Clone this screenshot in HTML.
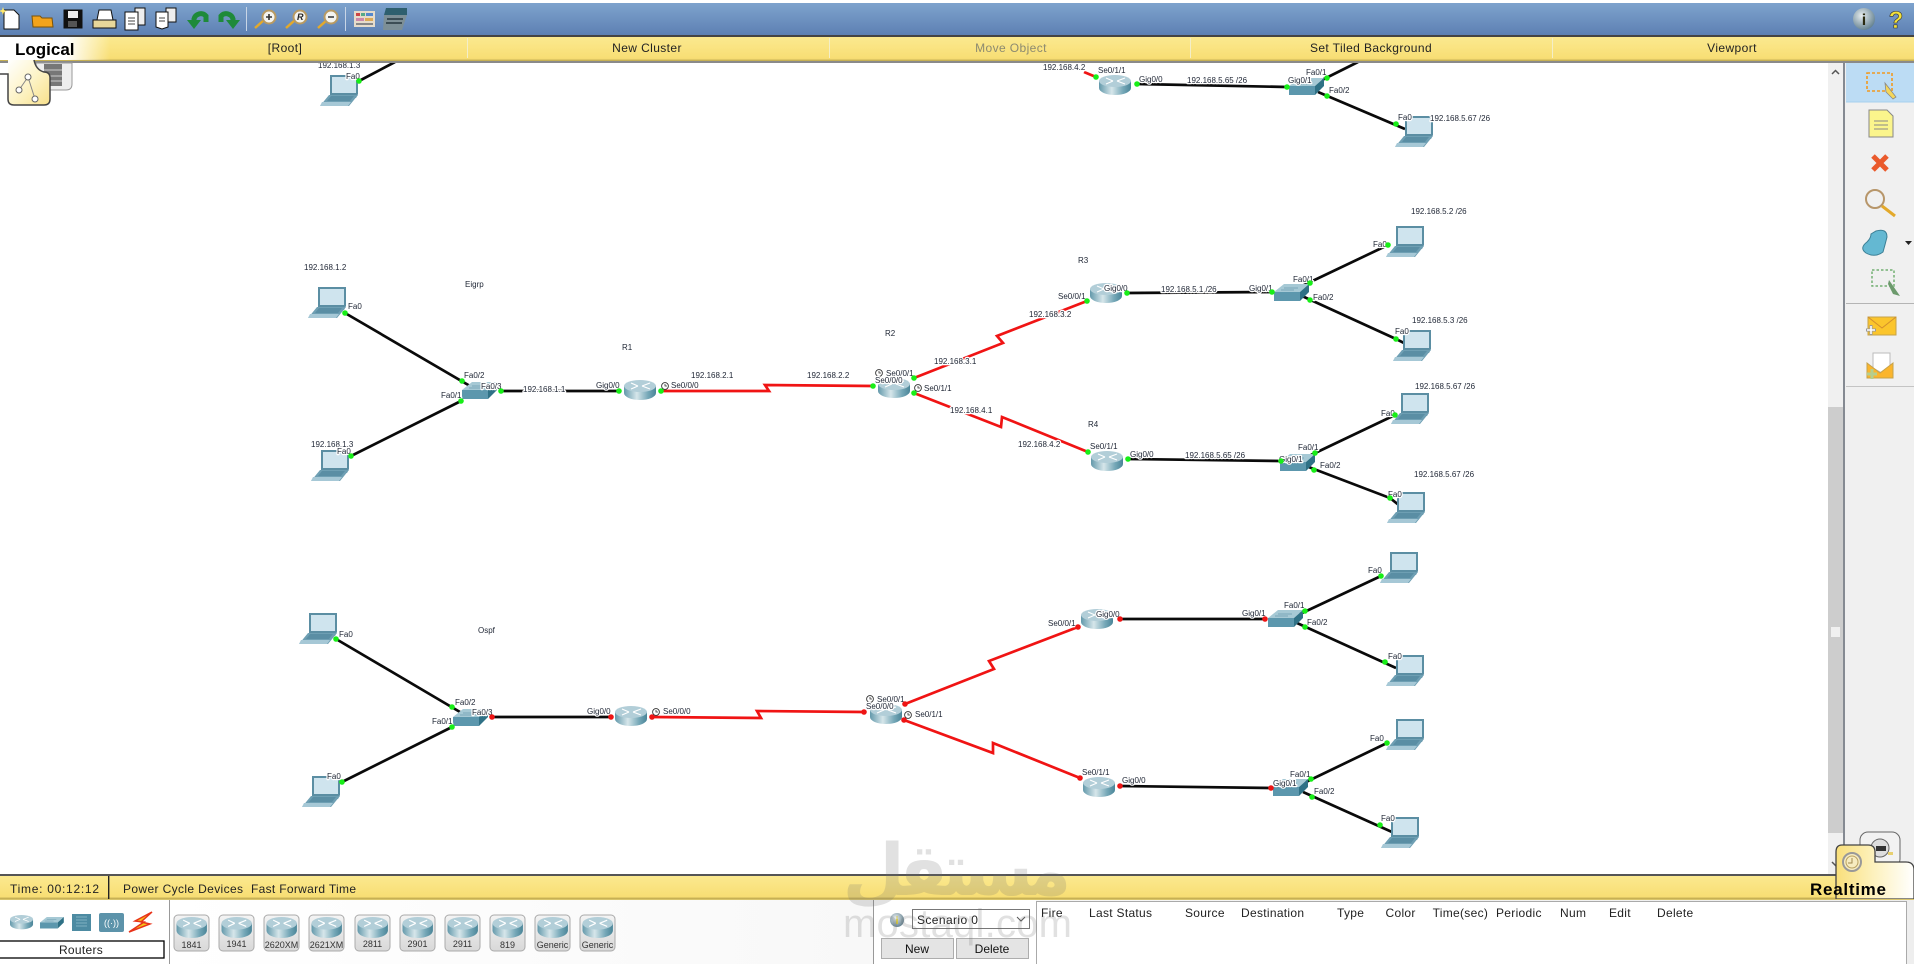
<!DOCTYPE html>
<html><head><meta charset="utf-8"><style>
html,body{margin:0;padding:0;background:#fff;width:1914px;height:964px;overflow:hidden}
svg{display:block;font-family:"Liberation Sans",sans-serif}
.l text{font-size:8px;fill:#1d2433;stroke:#fff;stroke-width:2.5px;paint-order:stroke;stroke-linejoin:round}
.m text{font-size:12px;fill:#222}
.n text{letter-spacing:.4px}
.c text{font-size:9px;fill:#333;text-anchor:middle}
.h text{font-size:12px;fill:#222;letter-spacing:.3px}
</style></head><body>
<svg width="1914" height="964" viewBox="0 0 1914 964" xmlns="http://www.w3.org/2000/svg">
<defs>
<linearGradient id="rg" x1="0" x2="1" y1="0" y2="0"><stop offset="0" stop-color="#6399ab"/><stop offset=".4" stop-color="#d6e6ea"/><stop offset=".75" stop-color="#76a8b8"/><stop offset="1" stop-color="#4a8598"/></linearGradient>
<linearGradient id="tb" x1="0" x2="0" y1="0" y2="1"><stop offset="0" stop-color="#7ea3cd"/><stop offset="1" stop-color="#5d80b3"/></linearGradient>
<linearGradient id="yb" x1="0" x2="0" y1="0" y2="1"><stop offset="0" stop-color="#fbe98f"/><stop offset=".9" stop-color="#f8de74"/><stop offset="1" stop-color="#b9a44c"/></linearGradient>
<linearGradient id="lg" x1="0" x2="1" y1="0" y2="0"><stop offset="0" stop-color="#fff"/><stop offset=".6" stop-color="#fff"/><stop offset="1" stop-color="#fff" stop-opacity="0"/></linearGradient>
<linearGradient id="lt" x1="0" x2="1" y1="0" y2="1"><stop offset="0" stop-color="#fff"/><stop offset=".5" stop-color="#fdf4c8"/><stop offset="1" stop-color="#f8e08a"/></linearGradient>
<linearGradient id="rt" x1="0" x2="1" y1="0" y2="0"><stop offset="0" stop-color="#f9df7a"/><stop offset=".5" stop-color="#fdf2c0"/><stop offset="1" stop-color="#fff"/></linearGradient>
<linearGradient id="gy" x1="0" x2="1" y1="0" y2="0"><stop offset="0" stop-color="#fff"/><stop offset="1" stop-color="#eee"/></linearGradient>
<linearGradient id="cd" x1="0" x2="0" y1="0" y2="1"><stop offset="0" stop-color="#f4f4f4"/><stop offset="1" stop-color="#d8d8d8"/></linearGradient>
<radialGradient id="ball" cx=".4" cy=".35" r=".7"><stop offset="0" stop-color="#e8eef0"/><stop offset="1" stop-color="#5f7d8c"/></radialGradient>
<g id="lap">
<path d="M10 0H38V19L36 23H10Z" fill="#5b8ea3"/><rect x="12" y="2" width="24" height="16" fill="#cfe4ee"/>
<path d="M9 20H38L29 31H0Z" fill="#6e9fb3"/><path d="M11 21H34L30 26H7Z" fill="#5a8ea4"/><path d="M2 27H31L28 31H0Z" fill="#a6c8d6"/>
</g>
<g id="rou">
<path d="M0 6V13A16 7 0 0 0 32 13V6Z" fill="url(#rg)"/><ellipse cx="16" cy="6" rx="16" ry="6" fill="#b2ced8"/>
<path d="M7 3L14 6M18 6L26 9M26 3L18 6M14 6L7 9" stroke="#fff" stroke-width="1.1"/>
</g>
<g id="swi">
<path d="M0 8H26V17H0Z" fill="#5c97ad"/><path d="M0 8L10 0H35L26 8Z" fill="#a6c9d5"/><path d="M26 8L35 0V8L26 17Z" fill="#2f7186"/>
<path d="M10 4H24M7 6H20" stroke="#7aa8b9" stroke-width="1"/>
</g>
<g id="clk"><circle r="3.4" fill="#fff" stroke="#333" stroke-width=".9"/><path d="M0 -2V0H2" stroke="#333" stroke-width=".8" fill="none"/></g>
</defs>

<rect width="1914" height="964" fill="#fff"/>

<!-- connectors -->
<g fill="none" stroke-linejoin="miter">
<g stroke="#0a0a0a" stroke-width="2.7">
<path d="M359 81L395 62"/>
<path d="M345 313L470 386M351 456L461 401M501 391H619"/>
<path d="M1127 293L1272 292M1304 285L1388 245M1302 296L1396 339L1404 343"/>
<path d="M1128 459L1281 461M1311 455L1395 415M1306 466L1390 498L1400 506"/>
<path d="M1137 84L1287 87M1322 80L1358 62M1318 92L1405 129"/>
<path d="M336 639L460 712M342 782L452 727M492 717H611"/>
<path d="M1120 619L1265 619M1300 614L1381 576M1297 623L1396 668"/>
<path d="M1120 786L1271 788M1306 782L1387 743M1303 792L1392 832"/>
</g>
<g stroke="#f01414" stroke-width="2.7">
<path d="M661 391H769L765 385L873 386"/>
<path d="M914 378L1003 343L997 336L1087 301"/>
<path d="M914 393L1001 427L1002 417L1088 452"/>
<path d="M1084 72L1096 77"/>
<path d="M652 717L761 718L757 711L864 712"/>
<path d="M905 704L994 669L989 661L1078 627"/>
<path d="M904 720L993 753L993 743L1080 778"/>
</g>
</g>

<!-- laptops -->
<use href="#lap" x="320" y="75"/><use href="#lap" x="308" y="287"/><use href="#lap" x="311" y="450"/>
<use href="#lap" x="1395" y="116"/><use href="#lap" x="1386" y="226"/><use href="#lap" x="1393" y="330"/>
<use href="#lap" x="1391" y="393"/><use href="#lap" x="1387" y="492"/>
<use href="#lap" x="299" y="613"/><use href="#lap" x="302" y="776"/>
<use href="#lap" x="1380" y="552"/><use href="#lap" x="1386" y="655"/><use href="#lap" x="1386" y="719"/><use href="#lap" x="1381" y="817"/>
<!-- routers -->
<use href="#rou" x="624" y="380"/><use href="#rou" x="878" y="378"/><use href="#rou" x="1090" y="283"/><use href="#rou" x="1091" y="451"/><use href="#rou" x="1099" y="75"/>
<use href="#rou" x="615" y="706"/><use href="#rou" x="870" y="704"/><use href="#rou" x="1081" y="609"/><use href="#rou" x="1083" y="777"/>
<!-- switches -->
<use href="#swi" x="462" y="382"/><use href="#swi" x="1274" y="284"/><use href="#swi" x="1280" y="454"/><use href="#swi" x="1289" y="78"/>
<use href="#swi" x="453" y="709"/><use href="#swi" x="1268" y="610"/><use href="#swi" x="1273" y="779"/>

<!-- clocks -->
<use href="#clk" x="665" y="386"/><use href="#clk" x="879" y="373"/><use href="#clk" x="918" y="388"/>
<use href="#clk" x="656" y="712"/><use href="#clk" x="870" y="699"/><use href="#clk" x="908" y="715"/>

<!-- labels -->
<g class="l">
<text x="318" y="68">192.168.1.3</text><text x="346" y="79">Fa0</text>
<text x="304" y="270">192.168.1.2</text><text x="465" y="287">Eigrp</text><text x="348" y="309">Fa0</text>
<text x="464" y="378">Fa0/2</text><text x="481" y="389">Fa0/3</text><text x="441" y="398">Fa0/1</text>
<text x="523" y="392">192.168.1.1</text><text x="596" y="388">Gig0/0</text><text x="671" y="388">Se0/0/0</text>
<text x="622" y="350">R1</text><text x="311" y="447">192.168.1.3</text><text x="337" y="454">Fa0</text>
<text x="691" y="378">192.168.2.1</text><text x="807" y="378">192.168.2.2</text>
<text x="1078" y="263">R3</text><text x="1058" y="299">Se0/0/1</text><text x="1104" y="291">Gig0/0</text>
<text x="1161" y="292">192.168.5.1 /26</text><text x="1249" y="291">Gig0/1</text><text x="1029" y="317">192.168.3.2</text>
<text x="885" y="336">R2</text><text x="934" y="364">192.168.3.1</text><text x="886" y="376">Se0/0/1</text>
<text x="875" y="383">Se0/0/0</text><text x="924" y="391">Se0/1/1</text><text x="950" y="413">192.168.4.1</text>
<text x="1018" y="447">192.168.4.2</text><text x="1088" y="427">R4</text><text x="1090" y="449">Se0/1/1</text>
<text x="1130" y="457">Gig0/0</text><text x="1185" y="458">192.168.5.65 /26</text>
<text x="1293" y="282">Fa0/1</text><text x="1313" y="300">Fa0/2</text><text x="1373" y="247">Fa0</text>
<text x="1411" y="214">192.168.5.2 /26</text><text x="1395" y="334">Fa0</text><text x="1412" y="323">192.168.5.3 /26</text>
<text x="1279" y="462">Gig0/1</text><text x="1298" y="450">Fa0/1</text><text x="1320" y="468">Fa0/2</text>
<text x="1381" y="416">Fa0</text><text x="1415" y="389">192.168.5.67 /26</text><text x="1388" y="497">Fa0</text>
<text x="1414" y="477">192.168.5.67 /26</text>
<text x="1043" y="70">192.168.4.2</text><text x="1098" y="73">Se0/1/1</text><text x="1139" y="82">Gig0/0</text>
<text x="1187" y="83">192.168.5.65 /26</text><text x="1288" y="83">Gig0/1</text><text x="1306" y="75">Fa0/1</text>
<text x="1329" y="93">Fa0/2</text><text x="1398" y="120">Fa0</text><text x="1430" y="121">192.168.5.67 /26</text>
<text x="339" y="637">Fa0</text><text x="478" y="633">Ospf</text><text x="455" y="705">Fa0/2</text>
<text x="472" y="715">Fa0/3</text><text x="432" y="724">Fa0/1</text><text x="587" y="714">Gig0/0</text>
<text x="663" y="714">Se0/0/0</text><text x="327" y="779">Fa0</text>
<text x="877" y="702">Se0/0/1</text><text x="866" y="709">Se0/0/0</text><text x="915" y="717">Se0/1/1</text>
<text x="1048" y="626">Se0/0/1</text><text x="1096" y="617">Gig0/0</text><text x="1242" y="616">Gig0/1</text>
<text x="1284" y="608">Fa0/1</text><text x="1307" y="625">Fa0/2</text><text x="1368" y="573">Fa0</text>
<text x="1388" y="659">Fa0</text><text x="1370" y="741">Fa0</text><text x="1290" y="777">Fa0/1</text>
<text x="1273" y="786">Gig0/1</text><text x="1314" y="794">Fa0/2</text><text x="1381" y="821">Fa0</text>
<text x="1082" y="775">Se0/1/1</text><text x="1122" y="783">Gig0/0</text>
</g>

<!-- link lights -->
<g fill="#18ee18">
<circle cx="359" cy="81" r="2.8"/><circle cx="345" cy="313" r="2.8"/><circle cx="462" cy="381" r="2.8"/><circle cx="351" cy="456" r="2.8"/><circle cx="461" cy="401" r="2.8"/>
<circle cx="501" cy="391" r="2.8"/><circle cx="619" cy="391" r="2.8"/><circle cx="661" cy="391" r="2.8"/><circle cx="873" cy="386" r="2.8"/>
<circle cx="914" cy="378" r="2.8"/><circle cx="1087" cy="301" r="2.8"/><circle cx="914" cy="393" r="2.8"/><circle cx="1088" cy="452" r="2.8"/>
<circle cx="1127" cy="293" r="2.8"/><circle cx="1272" cy="292" r="2.8"/><circle cx="1310" cy="283" r="2.8"/><circle cx="1388" cy="245" r="2.8"/><circle cx="1310" cy="300" r="2.8"/><circle cx="1396" cy="339" r="2.8"/>
<circle cx="1128" cy="459" r="2.8"/><circle cx="1281" cy="461" r="2.8"/><circle cx="1315" cy="453" r="2.8"/><circle cx="1395" cy="415" r="2.8"/><circle cx="1314" cy="470" r="2.8"/><circle cx="1390" cy="498" r="2.8"/>
<circle cx="1096" cy="77" r="2.8"/><circle cx="1137" cy="84" r="2.8"/><circle cx="1287" cy="87" r="2.8"/><circle cx="1327" cy="78" r="2.8"/><circle cx="1327" cy="96" r="2.8"/><circle cx="1396" cy="124" r="2.8"/>
<circle cx="336" cy="639" r="2.8"/><circle cx="452" cy="707" r="2.8"/><circle cx="342" cy="782" r="2.8"/><circle cx="452" cy="727" r="2.8"/>
<circle cx="1305" cy="611" r="2.8"/><circle cx="1381" cy="576" r="2.8"/><circle cx="1305" cy="627" r="2.8"/><circle cx="1385" cy="662" r="2.8"/>
<circle cx="1311" cy="779" r="2.8"/><circle cx="1387" cy="743" r="2.8"/><circle cx="1312" cy="797" r="2.8"/><circle cx="1380" cy="825" r="2.8"/>
</g>
<g fill="#ee1414">
<circle cx="492" cy="717" r="2.8"/><circle cx="611" cy="717" r="2.8"/><circle cx="652" cy="717" r="2.8"/><circle cx="864" cy="712" r="2.8"/>
<circle cx="905" cy="704" r="2.8"/><circle cx="1078" cy="627" r="2.8"/><circle cx="904" cy="720" r="2.8"/><circle cx="1080" cy="778" r="2.8"/>
<circle cx="1120" cy="619" r="2.8"/><circle cx="1265" cy="619" r="2.8"/><circle cx="1120" cy="786" r="2.8"/><circle cx="1271" cy="788" r="2.8"/>
</g>

<!-- top chrome -->
<rect y="0" width="1914" height="3" fill="#fff"/>
<rect y="3" width="1914" height="32" fill="url(#tb)"/>
<rect y="35" width="1914" height="2" fill="#444"/>
<rect y="37" width="1914" height="24" fill="url(#yb)"/>
<rect y="61" width="1914" height="2" fill="#8a8a8a"/>
<rect y="37" width="110" height="23" fill="url(#lg)"/>
<g fill="#f3eec8"><rect x="467" y="38" width="1" height="20"/><rect x="829" y="38" width="1" height="20"/><rect x="1190" y="38" width="1" height="20"/><rect x="1552" y="38" width="1" height="20"/></g>
<text x="15" y="55" font-size="17" font-weight="bold" fill="#000">Logical</text>
<g class="m n" text-anchor="middle">
<text x="285" y="52">[Root]</text><text x="647" y="52">New Cluster</text>
<text x="1011" y="52" style="fill:#8c8a70">Move Object</text><text x="1371" y="52">Set Tiled Background</text><text x="1732" y="52">Viewport</text>
</g>
<!-- toolbar icons -->
<g stroke="#111" stroke-width="1">
<path d="M4 10H14L19 15V29H4Z" fill="#fff"/><path d="M3 7l1 3 3 1-3 1-1 3-1-3-3-1 3-1z" fill="#ffe86a" stroke="none"/>
<path d="M33 27L32 16H40L42 18H52L53 27Z" fill="#f2a31c" stroke="#7a5208"/>
<path d="M64 10H82V28H64Z" fill="#111"/><rect x="68" y="11" width="10" height="7" fill="#eee" stroke="none"/><rect x="68" y="21" width="9" height="6" fill="#555" stroke="none"/>
<path d="M93 20H116V28H93Z" fill="#e7d79a"/><path d="M99 10H111L113 20H97Z" fill="#fff"/>
<path d="M135 8H145V25H135Z" fill="#eee"/><path d="M125 12H138V30H125Z" fill="#fff"/><path d="M128 18H135M128 21H135M128 24H135" stroke="#444"/>
<path d="M166 8H176V22H166Z" fill="#eee"/><path d="M156 12H168V27L162 29 156 27Z" fill="#fff"/><path d="M159 18H165M159 21H165" stroke="#444"/>
</g>
<g fill="none" stroke="#1e8a3a" stroke-width="5">
<path d="M194 26V19A7 7 0 0 1 206 16V22"/><path d="M233 26V19A7 7 0 0 0 221 16V22"/>
</g>
<path d="M187 20H201L194 29Z" fill="#1e8a3a"/><path d="M226 20H240L233 29Z" fill="#1e8a3a"/>
<rect x="246" y="7" width="1" height="24" fill="#c8d5e6"/><rect x="345" y="7" width="1" height="24" fill="#c8d5e6"/>
<g stroke="#e3a92b" stroke-width="2.5"><path d="M255 28L264 20M286 28L295 20M318 28L327 20"/></g>
<g fill="#f4f4f0" stroke="#b89a62" stroke-width="2"><circle cx="269" cy="17" r="6.5"/><circle cx="300" cy="17" r="6.5"/><circle cx="331" cy="17" r="6.5"/></g>
<path d="M266 17H272M269 14V20M328 17H334" stroke="#333" stroke-width="1.6"/>
<text x="297" y="20" font-size="9" font-weight="bold" font-style="italic" fill="#222">R</text>
<rect x="354" y="11" width="21" height="16" fill="#e6dccb"/><g fill="#c44"><rect x="356" y="13" width="4" height="3"/></g><rect x="361" y="13" width="4" height="3" fill="#5a8"/><rect x="366" y="13" width="7" height="3" fill="#58c"/><rect x="356" y="18" width="8" height="3" fill="#c8a"/><rect x="365" y="18" width="8" height="3" fill="#da5"/><rect x="356" y="23" width="17" height="2" fill="#888"/>
<path d="M386 8H407V15H384Z" fill="#2e5f6e"/><path d="M384 15H407L402 30H383Z" fill="#7d8f96"/><path d="M387 19H403M386 23H402" stroke="#3c4d55" stroke-width="2"/>
<circle cx="1864" cy="19" r="11" fill="url(#ball)"/><text x="1864" y="25" font-size="16" font-weight="bold" text-anchor="middle" fill="#2a2a10">i</text>
<text x="1896" y="28" font-size="24" font-weight="bold" text-anchor="middle" fill="#f3e23c" stroke="#333" stroke-width=".6">?</text>

<!-- logical tab -->
<path d="M36 63H72V84Q72 90 66 90H36Z" fill="#eee" stroke="#999"/><rect x="44" y="64" width="18" height="22" fill="#777"/><path d="M44 70H62M44 76H62M44 81H62" stroke="#ccc"/>
<path d="M8 60H34Q36 70 44 72Q50 72 50 78V99Q50 105 44 105H14Q8 105 8 99Z" fill="url(#lt)"/>
<path d="M0 74H8V99Q8 105 14 105H44Q50 105 50 99V78Q50 72 44 72Q36 70 34 60" fill="none" stroke="#444" stroke-width="1.5"/>
<path d="M28 77L19 90M28 77L35 99" stroke="#888" fill="none"/><g fill="#fff" stroke="#666"><circle cx="28" cy="77" r="3"/><circle cx="19" cy="90" r="3"/><circle cx="35" cy="99" r="3"/></g>

<!-- scrollbar + right panel -->
<rect x="1828" y="63" width="16" height="811" fill="#f0f0f0"/>
<rect x="1828" y="407" width="15" height="426" fill="#cdcdcd"/>
<rect x="1831" y="627" width="9" height="10" fill="#f0f0f0"/>
<path d="M1832 74L1835.5 70.5 1839 74" fill="none" stroke="#555" stroke-width="1.5"/>
<path d="M1832 862L1835.5 865.5 1839 862" fill="none" stroke="#555" stroke-width="1.5"/>
<rect x="1844" y="63" width="70" height="811" fill="#f0f0f0"/>
<rect x="1843" y="62" width="2" height="812" fill="#858a92"/>
<rect x="1846" y="63" width="68" height="39" fill="#bcdcf4"/><path d="M1846 102H1914" stroke="#a6d0ee"/>
<rect x="1867" y="73" width="25" height="18" fill="none" stroke="#f09a20" stroke-width="1.6" stroke-dasharray="3 2"/>
<path d="M1885 83L1896 97L1893 99L1886 92Z" fill="#f5d75a" stroke="#888" stroke-width=".8"/>
<path d="M1869 110H1887L1893 116V137H1869Z" fill="#fbf58c" stroke="#888"/><path d="M1874 121H1888M1874 125H1888M1874 129H1888" stroke="#888"/>
<path d="M1873 156L1887 170M1887 156L1873 170" stroke="#ea5a2c" stroke-width="5"/>
<circle cx="1875" cy="199" r="9" fill="none" stroke="#b7966a" stroke-width="2"/><path d="M1882 206L1895 216" stroke="#e3a92b" stroke-width="3"/>
<path d="M1876 231Q1887 228 1887 237Q1885 245 1883 252Q1875 258 1866 253Q1859 248 1867 242Q1871 238 1871 234Z" fill="#64b8d2" stroke="#3b7f95"/>
<path d="M1905 241H1912L1908.5 245Z" fill="#222"/>
<rect x="1872" y="270" width="22" height="16" fill="none" stroke="#73b073" stroke-width="1.5" stroke-dasharray="2.5 2"/>
<path d="M1889 280L1900 296L1893 294L1888 284Z" fill="#6c9a6c"/>
<rect y="303" x="1846" width="68" height="1" fill="#b4b4b4"/>
<rect x="1868" y="317" width="28" height="18" fill="#fbc52c" stroke="#c6a24a"/><path d="M1868 317L1882 328 1896 317" fill="none" stroke="#d38f2c"/>
<path d="M1871 325V335M1866 330H1876" stroke="#999" stroke-width="3"/><path d="M1871 326V334M1867 330H1875" stroke="#fff" stroke-width="1.6"/>
<path d="M1873 353H1890V368L1882 373 1873 368Z" fill="#fff" stroke="#bbb"/><path d="M1867 363L1880 373 1893 363V378H1867Z" fill="#fbb52c" stroke="#c6a24a"/>
<path d="M1872 369V379M1867 374H1877" stroke="#b5ce8d" stroke-width="3"/>
<rect y="386" x="1846" width="68" height="1" fill="#c4c4c4"/>

<!-- bottom -->
<rect x="1860" y="832" width="40" height="35" rx="8" fill="#f2f2f2" stroke="#666"/><circle cx="1880" cy="848" r="9" fill="#ddd" stroke="#666"/><rect x="1876" y="846" width="10" height="5" fill="#333"/><rect x="1888" y="852" width="5" height="3" fill="#e8d070"/>
<rect y="874" width="1914" height="2" fill="#555"/>
<rect y="876" width="1914" height="23" fill="url(#yb)"/>
<rect x="108" y="876" width="1.4" height="23" fill="#222"/>
<g class="m">
<text x="10" y="893" textLength="89">Time: 00:12:12</text>
<text x="123" y="893" textLength="120">Power Cycle Devices</text>
<text x="251" y="893" textLength="105">Fast Forward Time</text>
</g>
<path d="M1836 899V852Q1836 845 1842 845H1868Q1875 845 1875 852V862H1906Q1914 862 1914 870V899Z" fill="url(#rt)" stroke="#444" stroke-width="1.3"/>
<circle cx="1852" cy="862" r="9" fill="#f7ecc0" stroke="#999" stroke-width="2"/><circle cx="1852" cy="862" r="6" fill="none" stroke="#b9a060"/><path d="M1852 858V863H1848" stroke="#a08a50" fill="none"/>
<text x="1810" y="895" font-size="17" font-weight="bold" fill="#000" textLength="76">Realtime</text>
<rect y="899" width="1914" height="1" fill="#d8c46a"/>
<rect y="900" width="169" height="64" fill="#fff"/>
<rect x="169" y="900" width="1745" height="64" fill="url(#gy)"/>
<rect x="169" y="900" width="1" height="64" fill="#999"/>
<use href="#rou" transform="translate(10,915) scale(.72)"/>
<use href="#swi" transform="translate(40,917) scale(.68)"/>
<rect x="72" y="914" width="19" height="17" fill="#4d8ba2"/><path d="M76 917H87M76 920H87M76 923H87M76 926H87" stroke="#7fb0c2"/>
<rect x="99" y="913" width="25" height="19" rx="2" fill="#5c93aa"/><text x="111.5" y="926" font-size="9" fill="#fff" text-anchor="middle">((·))</text>
<path d="M152 912L135 921 144 922 129 932 150 924 141 922Z" fill="#f5c518" stroke="#e8331a" stroke-width="1.5"/>
<rect x="-2" y="941" width="166" height="17" fill="#fff" stroke="#000" stroke-width="1.3"/>
<text x="81" y="954" font-size="12" text-anchor="middle" fill="#222" letter-spacing=".3">Routers</text>
<g fill="url(#cd)" stroke="#aaa">
<rect x="174" y="915" width="35" height="36" rx="4"/><rect x="219" y="915" width="35" height="36" rx="4"/><rect x="264" y="915" width="35" height="36" rx="4"/><rect x="309" y="915" width="35" height="36" rx="4"/><rect x="355" y="915" width="35" height="36" rx="4"/><rect x="400" y="915" width="35" height="36" rx="4"/><rect x="445" y="915" width="35" height="36" rx="4"/><rect x="490" y="915" width="35" height="36" rx="4"/><rect x="535" y="915" width="35" height="36" rx="4"/><rect x="580" y="915" width="35" height="36" rx="4"/>
</g>
<use href="#rou" transform="translate(176.500,917) scale(.95,1.05)"/><use href="#rou" transform="translate(221.500,917) scale(.95,1.05)"/><use href="#rou" transform="translate(266.500,917) scale(.95,1.05)"/><use href="#rou" transform="translate(311.500,917) scale(.95,1.05)"/><use href="#rou" transform="translate(357.500,917) scale(.95,1.05)"/><use href="#rou" transform="translate(402.500,917) scale(.95,1.05)"/><use href="#rou" transform="translate(447.500,917) scale(.95,1.05)"/><use href="#rou" transform="translate(492.500,917) scale(.95,1.05)"/><use href="#rou" transform="translate(537.500,917) scale(.95,1.05)"/><use href="#rou" transform="translate(582.500,917) scale(.95,1.05)"/>
<g class="c">
<text x="191.500" y="948">1841</text><text x="236.500" y="947">1941</text><text x="281.500" y="948">2620XM</text><text x="326.500" y="948">2621XM</text><text x="372.500" y="947">2811</text><text x="417.500" y="947">2901</text><text x="462.500" y="947">2911</text><text x="507.500" y="948">819</text><text x="552.500" y="948">Generic</text><text x="597.500" y="948">Generic</text>
</g>
<!-- scenario panel -->
<rect x="873" y="900" width="163" height="64" fill="#fff"/>
<rect x="873" y="900" width="1" height="64" fill="#999"/>
<circle cx="897" cy="920" r="7" fill="url(#ball)"/><text x="897" y="924" font-size="10" font-weight="bold" text-anchor="middle" fill="#dcc51a">i</text>
<rect x="912.500" y="909.500" width="117" height="19" fill="#fff" stroke="#777"/>
<text x="917" y="924" font-size="12" fill="#222" letter-spacing=".4">Scenario 0</text>
<path d="M1017 917L1021 921 1025 917" fill="none" stroke="#555"/>
<rect x="881.500" y="938.500" width="72" height="20" fill="#e4e4e4" stroke="#adadad"/>
<rect x="956.500" y="938.500" width="72" height="20" fill="#e4e4e4" stroke="#adadad"/>
<text x="917" y="953" font-size="12" text-anchor="middle" fill="#111">New</text>
<text x="992" y="953" font-size="12" text-anchor="middle" fill="#111">Delete</text>
<rect x="1036.500" y="901.500" width="870" height="70" fill="#fff" stroke="#aaa"/>
<g class="h">
<text x="1041" y="917">Fire</text><text x="1089" y="917">Last Status</text><text x="1185" y="917">Source</text><text x="1241" y="917">Destination</text><text x="1337" y="917">Type</text><text x="1385.500" y="917">Color</text><text x="1432.600" y="917">Time(sec)</text><text x="1496" y="917">Periodic</text><text x="1560" y="917">Num</text><text x="1609" y="917">Edit</text><text x="1657" y="917">Delete</text>
</g>
<!-- watermark -->
<g fill="#6e6e6e" opacity=".2">
<text x="957" y="895" font-family="DejaVu Sans,sans-serif" font-size="72" font-weight="bold" text-anchor="middle" direction="rtl" textLength="229">مستقل</text>
<text x="843" y="937" font-size="40" textLength="229">mostaql.com</text>
</g>
</svg>
</body></html>
